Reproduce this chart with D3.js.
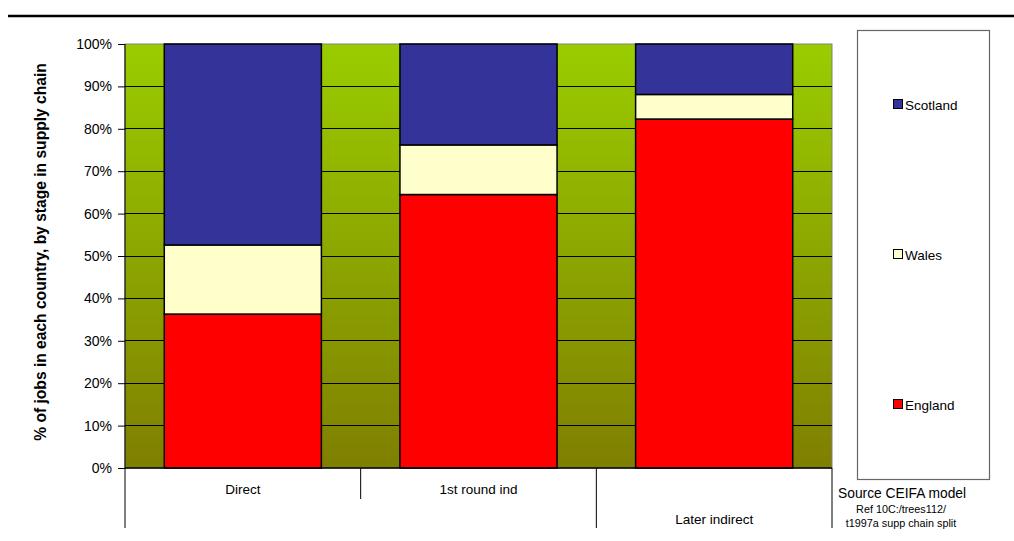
<!DOCTYPE html>
<html>
<head>
<meta charset="utf-8">
<script src="https://cdn.jsdelivr.net/npm/d3@7"></script>
<style>
  html, body { margin: 0; padding: 0; background: #fff; }
  svg { display: block; font-family: Arial, "Liberation Sans", sans-serif; }
</style>
</head>
<body>
<svg id="chart" width="1014" height="541"></svg>
<script>
// Share of jobs by country at each stage of the supply chain (percent)
const stages = ["Direct", "1st round ind", "Later indirect"];
const countries = ["England", "Wales", "Scotland"];
const england = [36.3, 64.5, 82.3];
const wales = [16.3, 11.7, 5.8];
const scotland = [47.4, 23.8, 11.9];
const yTicks = [0, 10, 20, 30, 40, 50, 60, 70, 80, 90, 100];
const colors = { England: "#FF0000", Wales: "#FFFFCC", Scotland: "#333399" };

const rows = stages.map((s, i) => ({ stage: s, England: england[i], Wales: wales[i], Scotland: scotland[i] }));
const stacked = d3.stack().keys(countries)(rows);

const svg = d3.select("#chart");
const plot = { left: 125, right: 832, top: 44, bottom: 468 };

const x = d3.scaleBand().domain(stages).range([plot.left, plot.right]).paddingInner(1 / 3).paddingOuter(1 / 6);
const y = d3.scaleLinear().domain([0, 100]).range([plot.bottom, plot.top]);

// rule across the top of the page
svg.append("line").attr("x1", 8).attr("x2", 1014).attr("y1", 16).attr("y2", 16)
  .attr("stroke", "#000").attr("stroke-width", 2.5);

// plot background gradient
const defs = svg.append("defs");
const grad = defs.append("linearGradient").attr("id", "bg").attr("x1", 0).attr("y1", 0).attr("x2", 0).attr("y2", 1);
grad.append("stop").attr("offset", "0%").attr("stop-color", "#9ACD00");
grad.append("stop").attr("offset", "100%").attr("stop-color", "#7F7F00");
svg.append("rect").attr("x", plot.left).attr("y", plot.top)
  .attr("width", plot.right - plot.left).attr("height", plot.bottom - plot.top)
  .attr("fill", "url(#bg)").attr("stroke", "#808080").attr("stroke-width", 1);

// gridlines
svg.append("g").selectAll("line").data(yTicks.slice(1, -1)).join("line")
  .attr("x1", plot.left).attr("x2", plot.right)
  .attr("y1", d => y(d)).attr("y2", d => y(d))
  .attr("stroke", "#000").attr("stroke-width", 1).attr("shape-rendering", "crispEdges");

// stacked bars
svg.append("g").selectAll("g").data(stacked).join("g")
  .attr("fill", d => colors[d.key])
  .selectAll("rect").data(d => d).join("rect")
  .attr("x", d => x(d.data.stage))
  .attr("width", x.bandwidth())
  .attr("y", d => y(d[1]))
  .attr("height", d => y(d[0]) - y(d[1]))
  .attr("stroke", "#000").attr("stroke-width", 1.5);

// y axis
const yAxis = svg.append("g").attr("transform", `translate(${plot.left},0)`)
  .call(d3.axisLeft(y).tickValues(yTicks).tickFormat(d => d + "%").tickSize(7).tickPadding(6));
yAxis.select(".domain").remove();
yAxis.selectAll(".tick line").attr("stroke", "#000");
yAxis.selectAll(".tick text").attr("font-size", 14).attr("fill", "#000");
svg.append("line").attr("x1", plot.left).attr("x2", plot.left).attr("y1", plot.top).attr("y2", 528)
  .attr("stroke", "#000").attr("stroke-width", 1);

// category axis with its dividers
svg.append("line").attr("x1", plot.left).attr("x2", plot.right).attr("y1", plot.bottom).attr("y2", plot.bottom)
  .attr("stroke", "#000").attr("stroke-width", 1.5);
const step = x.step();
const dividerEnds = [499, 528, 528];
svg.append("g").selectAll("line").data(stages).join("line")
  .attr("x1", (d, i) => plot.left + step * (i + 1)).attr("x2", (d, i) => plot.left + step * (i + 1))
  .attr("y1", plot.bottom).attr("y2", (d, i) => dividerEnds[i])
  .attr("stroke", "#000").attr("stroke-width", 1);
const labelY = [494, 494, 524];
svg.append("g").selectAll("text").data(stages).join("text")
  .attr("x", d => x(d) + x.bandwidth() / 2)
  .attr("y", (d, i) => labelY[i])
  .attr("text-anchor", "middle").attr("font-size", 13.5).attr("fill", "#000")
  .text(d => d);

// y axis title
svg.append("text")
  .attr("transform", `translate(46,252) rotate(-90)`)
  .attr("text-anchor", "middle").attr("font-size", 15.6).attr("font-weight", "bold")
  .text("% of jobs in each country, by stage in supply chain");

// legend
svg.append("rect").attr("x", 857.5).attr("y", 30.5).attr("width", 132).attr("height", 449)
  .attr("fill", "#fff").attr("stroke", "#666").attr("stroke-width", 1.2);
const legendItems = ["Scotland", "Wales", "England"];
const legendY = [105, 255, 405];
const lg = svg.append("g").selectAll("g").data(legendItems).join("g")
  .attr("transform", (d, i) => `translate(893,${legendY[i]})`);
lg.append("rect").attr("x", 0.5).attr("y", -5.5).attr("width", 9).attr("height", 9)
  .attr("fill", d => colors[d]).attr("stroke", "#000").attr("stroke-width", 1);
lg.append("text").attr("x", 12).attr("y", 5).attr("font-size", 13.5).attr("fill", "#000").text(d => d);

// source note
svg.append("text").attr("x", 838).attr("y", 498).attr("font-size", 13.8).text("Source CEIFA model");
svg.append("text").attr("x", 901).attr("y", 513).attr("font-size", 10.8).attr("text-anchor", "middle").text("Ref 10C:/trees112/");
svg.append("text").attr("x", 901).attr("y", 527).attr("font-size", 10.8).attr("text-anchor", "middle").text("t1997a supp chain split");
</script>
</body>
</html>
